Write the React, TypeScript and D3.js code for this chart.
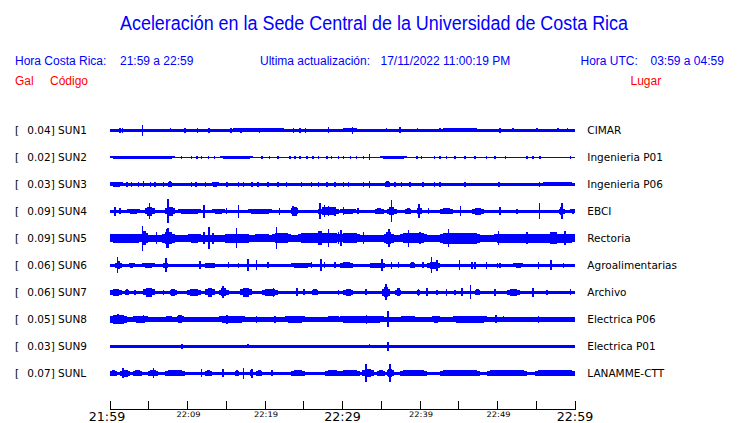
import React from "react";
import * as d3 from "d3";

// ---- data ----
const codes = ["SUN1", "SUN2", "SUN3", "SUN4", "SUN5", "SUN6", "SUN7", "SUN8", "SUN9", "SUNL"];
const gal = ["0.04", "0.02", "0.03", "0.09", "0.09", "0.06", "0.06", "0.05", "0.03", "0.07"];
const places = ["CIMAR", "Ingenieria P01", "Ingenieria P06", "EBCI", "Rectoria", "Agroalimentarias", "Archivo", "Electrica P06", "Electrica P01", "LANAMME-CTT"];

// background noise level (relative amplitude) per station
const baseAmp = [1.5, 0.6, 1.6, 1.5, 3.2, 1.6, 1.6, 2.3, 1.3, 1.8];

// bursts: [start minute, end minute, amplitude]
const bursts: number[][][] = [
  [[15.5, 22.8, 2], [29.7, 32.3, 2], [42.6, 47.7, 2]],
  [[0, 8.4, 1.2], [14.2, 18.5, 1.2], [34.8, 38.3, 1.2]],
  [[0, 1.7, 2.3], [7.5, 8.0, 3], [13.1, 14.0, 2.3], [35.5, 36.1, 3], [55.5, 60, 2.0]],
  [[2.15, 3.9, 2.8], [4.5, 5.8, 4.5], [7.1, 8.4, 4.5], [8.8, 11.8, 2.3], [13.1, 14.8, 2.8], [17.8, 20.9, 2.8], [23.4, 24.3, 4.2], [26.9, 29.5, 4], [29.7, 31.8, 2.5], [34.2, 35.3, 3], [35.7, 37.0, 4], [38.1, 38.9, 3], [39.6, 40.2, 4.5], [42.6, 44.3, 3], [46.7, 48.2, 3.5], [57.9, 58.7, 4], [59.4, 60, 2.5]],
  [[0, 4.1, 4.5], [4.1, 4.9, 7], [6.7, 8.4, 6], [10.1, 11.8, 4.5], [14.4, 18.3, 4.2], [18.3, 20.9, 4], [20.9, 23.4, 5], [24.3, 29.7, 5], [26.5, 27.7, 7], [29.7, 32.3, 5], [35.3, 36.6, 6], [37.4, 40.9, 5], [42.6, 47.7, 5.8], [49.5, 60, 4.8], [56.4, 58.1, 6]],
  [[0.65, 1.5, 4], [2.4, 3.2, 2.5], [4.1, 5.8, 2.3], [6.9, 7.5, 3.5], [12.3, 13.5, 2.8], [23.4, 26.0, 2.3], [29.7, 31.4, 3], [33.6, 35.5, 2.8], [38.7, 39.4, 3], [40.9, 42.6, 3.5], [52.0, 53.3, 2.5]],
  [[0, 1.5, 3.8], [1.9, 2.4, 3], [4.3, 5.8, 4.5], [7.7, 8.6, 3.5], [9.9, 11.8, 3.5], [12.3, 13.5, 4.5], [14.0, 15.3, 4], [16.8, 18.3, 4.5], [19.6, 21.7, 3.5], [26.0, 26.9, 3], [30.1, 31.4, 3.5], [35.1, 36.1, 5], [36.8, 37.6, 4], [39.6, 40.0, 3.5], [47.1, 47.7, 3], [51.2, 52.9, 3.5]],
  [[0, 2.15, 4.3], [3.0, 4.9, 3.5], [6.9, 8.4, 3], [8.6, 9.5, 4], [14.0, 17.4, 3.5], [22.6, 25.2, 3.5], [27.7, 30, 3], [29.7, 35.3, 3.5], [37.2, 39.8, 3], [41.5, 42.6, 3.8], [44.3, 48.6, 3.5], [55.5, 60, 2.7]],
  [],
  [[0, 0.9, 3], [1.3, 2.6, 3.5], [3.0, 4.1, 3], [4.9, 6.2, 3], [7.1, 9.7, 3], [12.3, 13.1, 3], [16.1, 16.6, 3], [18.1, 18.5, 4.5], [18.9, 19.6, 3], [23.4, 25.2, 3], [27.7, 29.7, 3], [29.7, 32.3, 3], [32.5, 34.0, 4], [34.4, 35.5, 3], [35.7, 36.6, 4], [37.4, 40.9, 3], [42.6, 47.7, 3], [48.6, 53.8, 3], [54.8, 60, 3]],
];

// spikes: [minute, amplitude]
const spikes: number[][][] = [
  [[1.3, 2.5], [1.6, 2.5], [4.2, 5.5], [7.8, 2], [9.7, 2.5], [11.3, 2.5], [12.8, 2.5], [15.6, 2.5], [16.9, 2.5], [18.2, 2], [19.3, 2.5], [23.7, 2.5], [24.5, 2.5], [25.2, 2.5], [28.2, 3], [30.1, 2], [31.3, 3.5], [35.7, 2], [37.4, 3], [39.7, 2], [42.6, 2], [45.1, 2], [46.2, 2], [47.3, 2], [50.3, 2.5], [52, 2], [55.1, 2], [57.8, 2], [59, 2]],
  [[9.2, 1.5], [10.5, 1.5], [11.2, 1.5], [11.8, 1.5], [12.7, 1.5], [13.5, 1.5], [19.6, 1.5], [20.6, 1.5], [21.7, 1.5], [23.2, 1.5], [23.9, 1.5], [24.5, 1.5], [25.4, 1.5], [26.2, 1.5], [26.9, 1.5], [28.0, 1.5], [28.6, 1.5], [29.5, 1.5], [30.1, 1.5], [31.0, 1.5], [31.8, 1.5], [32.7, 1.5], [33.5, 3], [39.6, 1.5], [40.2, 1.5], [41.9, 1.5], [42.6, 1.5], [43.4, 1.5], [44.5, 1.5], [45.8, 1.5], [47.1, 1.5], [48.6, 1.5], [49.7, 1.5], [51.0, 1.5], [53.8, 1.5], [54.6, 1.5], [55.5, 1.5], [59.4, 1.5]],
  [[2.2, 2.5], [2.8, 2.5], [3.7, 2.5], [4.3, 3], [5.2, 2.5], [5.8, 2.5], [6.9, 2.5], [10.5, 2.5], [11.1, 2.5], [12.3, 2.5], [15.1, 2.5], [16.6, 2.5], [17.2, 2.5], [18.3, 2.5], [19.1, 2.5], [20.4, 2.5], [21.7, 2.5], [22.8, 2.5], [24.7, 2.5], [26.0, 2.5], [26.9, 2.5], [28.0, 2.5], [29.0, 2.5], [30.1, 2.5], [30.8, 2.5], [32.7, 2.5], [33.5, 3.5], [36.8, 2.5], [37.6, 2.5], [38.7, 2.5], [40.4, 2.5], [41.9, 2.5], [42.6, 2.5], [45.8, 2.5], [50.2, 2.5], [55.4, 2.5]],
  [[0.65, 4.5], [1.3, 3], [5.1, 8], [7.5, 12], [12.1, 6.5], [15.0, 3], [16.6, 6.5], [21.9, 3.5], [23.6, 5], [27.1, 8], [27.7, 6], [28.2, 5], [29.0, 4.5], [30.1, 4], [32.0, 3], [36.3, 11], [39.9, 7], [41.1, 3], [45.2, 5], [50.3, 4], [52.5, 2.5], [55.4, 8], [58.3, 8]],
  [[4.2, 12.3], [6.0, 6], [7.3, 9.5], [7.5, 10], [12.1, 6], [12.8, 11], [13.3, 5.5], [16.3, 10], [21.5, 11], [28.2, 9], [29.5, 6], [29.8, 8], [32.7, 6], [36.0, 9], [38.5, 8.5], [40.0, 6], [43.7, 9], [50.1, 7], [53.8, 6], [58.7, 7]],
  [[0.95, 8], [7.2, 7], [11.6, 4], [15.3, 3], [16.6, 2.5], [17.8, 6], [18.9, 5], [20.4, 3], [26.0, 3], [27.2, 6], [27.7, 3], [29.0, 3], [35.1, 6], [36.3, 3.5], [37.2, 3], [40.4, 3], [41.5, 8], [42.2, 5.5], [45.1, 5], [46.7, 3.5], [47.1, 3.5], [48.6, 3.5], [50.0, 2.5], [50.3, 2.5], [55.3, 3.5], [56.9, 5], [58.5, 2.5]],
  [[3.2, 2.5], [6.9, 2.5], [14.6, 6], [21.1, 4.5], [24.1, 4], [25.0, 3], [29.5, 2.5], [33.0, 3], [35.6, 8], [40.9, 4], [42.2, 2.5], [43.4, 3.5], [44.5, 2.5], [45.4, 4], [46.5, 7], [49.7, 3.5], [54.6, 4.5], [56.4, 2.5], [59.4, 3]],
  [[1.0, 5], [4.3, 4], [15.1, 4.5], [18.9, 3.5], [21.3, 3.5], [33.1, 4.5], [35.9, 8], [49.8, 4], [50.8, 3], [55.3, 3.5]],
  [[9.3, 2.5], [17.8, 2], [21.7, 1.8], [33.5, 2], [35.9, 4.5], [41.3, 1.8], [48.2, 1.8], [52.0, 1.8], [53.8, 1.8]],
  [[1.7, 5], [5.6, 5], [11.8, 4], [14.6, 4], [17.2, 5.5], [20.9, 3], [33.0, 9], [36.1, 9]],
];

// time axis: minutes since 21:59
const tickMinutes = d3.range(0, 61, 5);
const tickLabels = [
  { m: 0, label: "21:59", big: true },
  { m: 10, label: "22:09", big: false },
  { m: 20, label: "22:19", big: false },
  { m: 30, label: "22:29", big: true },
  { m: 40, label: "22:39", big: false },
  { m: 50, label: "22:49", big: false },
  { m: 60, label: "22:59", big: true },
];

const BLUE = "#0000ff";
const RED = "#ff0000";
const SANS = "'Liberation Sans', Arial, Helvetica, sans-serif";
const DEJAVU = "'DejaVu Sans', sans-serif";

export default function App() {
  const W = 740, H = 423;
  const x = d3.scaleLinear().domain([0, 60]).range([110, 575]);
  const row = d3.scaleBand<string>().domain(codes).range([116.8, 386.8]);
  const half = row.bandwidth() / 2;
  const amp = d3.scaleLinear().domain([0, 13.5]).range([0, 13.5]);
  const axisY = 409.5;

  return (
    <svg width={W} height={H} style={{ position: "absolute", left: 0, top: 0, background: "#fff" }}>
      <rect width={W} height={H} fill="#fff" />
      {/* title */}
      <text x={120} y={30} fill={BLUE} fontFamily={SANS} fontSize={19.5} textLength={508} lengthAdjust="spacingAndGlyphs">
        Aceleración en la Sede Central de la Universidad de Costa Rica
      </text>
      {/* header */}
      <g fill={BLUE} fontFamily={SANS} fontSize={12}>
        <text x={15} y={65}>Hora Costa Rica:</text>
        <text x={120} y={65}>21:59 a 22:59</text>
        <text x={260} y={65}>Ultima actualización:</text>
        <text x={380.5} y={65}>17/11/2022 11:00:19 PM</text>
        <text x={580.5} y={65}>Hora UTC:</text>
        <text x={650.5} y={65}>03:59 a 04:59</text>
      </g>
      <g fill={RED} fontFamily={SANS} fontSize={12}>
        <text x={15} y={85}>Gal</text>
        <text x={50} y={85}>Código</text>
        <text x={630.5} y={85}>Lugar</text>
      </g>

      {/* traces */}
      {codes.map((c, i) => {
        const cy = (row(c) as number) + half;
        const b = baseAmp[i];
        return (
          <g key={c}>
            <text x={15} y={cy + 4} fontFamily={DEJAVU} fontSize={10.5} fill="#000">[</text>
            <text x={27.3} y={cy + 4} fontFamily={DEJAVU} fontSize={10.5} fill="#000" xmlSpace="preserve">{`${gal[i]}] ${c}`}</text>
            <text x={587.3} y={cy + 4} fontFamily={DEJAVU} fontSize={10.5} fill="#000">{places[i]}</text>
            <g fill={BLUE} shapeRendering="crispEdges">
              <rect x={x(0)} width={x(60) - x(0)} y={cy - amp(b)} height={2 * amp(b)} />
              {bursts[i].map(([t0, t1, a], j) => {
                const mid = (a + b) / 2;
                const r = Math.min((t1 - t0) * 0.25, 0.4);
                return (
                  <g key={"b" + j}>
                    <rect x={x(t0)} width={Math.max(1, x(t1) - x(t0))} y={cy - amp(mid)} height={2 * amp(mid)} />
                    <rect x={x(t0 + r)} width={Math.max(1, x(t1 - r) - x(t0 + r))} y={cy - amp(a)} height={2 * amp(a)} />
                  </g>
                );
              })}
              {spikes[i].map(([t, a], j) => (
                <rect key={"s" + j} x={x(t) - 0.75} width={1.5} y={cy - amp(a)} height={2 * amp(a)} />
              ))}
            </g>
          </g>
        );
      })}

      {/* time axis */}
      <g stroke="#000" strokeWidth={1} shapeRendering="crispEdges">
        <line x1={x(0)} x2={x(60)} y1={axisY} y2={axisY} />
        {tickMinutes.map((m) => (
          <line key={m} x1={x(m)} x2={x(m)} y1={axisY} y2={axisY - 9} />
        ))}
      </g>
      <g fontFamily={DEJAVU} fill="#000" textAnchor="middle">
        {tickLabels.map((t) =>
          t.big ? (
            <text key={t.label} x={x(t.m) - (t.m === 0 ? 3 : 0)} y={421} fontSize={12} textLength={36.5} lengthAdjust="spacingAndGlyphs">{t.label}</text>
          ) : (
            <text key={t.label} x={x(t.m) + 1} y={417} fontSize={7.5} textLength={24} lengthAdjust="spacingAndGlyphs">{t.label}</text>
          )
        )}
      </g>
    </svg>
  );
}
